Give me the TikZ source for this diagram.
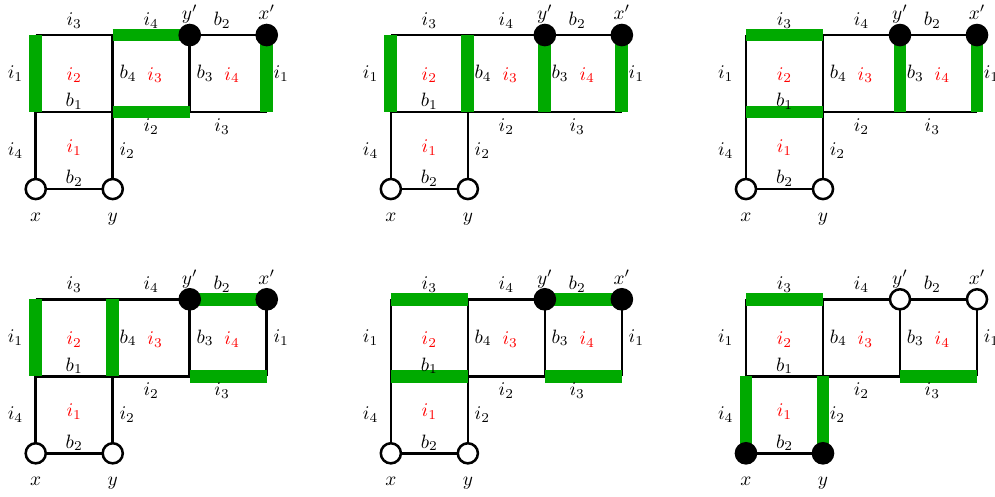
\documentclass[tikz,border=0pt]{standalone}
\usepackage{amsmath}
\usepackage{tikz}

\definecolor{barGreen}{RGB}{0,170,0}

% one panel: #1 shift, #2 name prefix, #3 green edges,
% #4 fill of y' and x', #5 fill of x and y
\newcommand{\cyclepanel}[5]{%
  \begin{scope}[shift={#1}, name prefix=#2-]
    \coordinate (t0) at (0,0);
    \coordinate (t1) at (1,0);
    \coordinate (t2) at (2,0);
    \coordinate (t3) at (3,0);
    \coordinate (m0) at (0,-1);
    \coordinate (m1) at (1,-1);
    \coordinate (m2) at (2,-1);
    \coordinate (m3) at (3,-1);
    \coordinate (l0) at (0,-2);
    \coordinate (l1) at (1,-2);

    \draw[edge] (t0) -- (t3);
    \draw[edge] (m0) -- (m3);
    \draw[edge] (l0) -- (l1);
    \draw[edge] (t0) -- (l0);
    \draw[edge] (t1) -- (l1);
    \draw[edge] (t2) -- (m2);
    \draw[edge] (t3) -- (m3);

    \foreach \a/\b in {#3} {
      \draw[greenbar] (\a) -- (\b);
    }

    \node[vtx, fill=#4] (vyp) at (t2) {};
    \node[vtx, fill=#4] (vxp) at (t3) {};
    \node[vtx, fill=#5] (vx) at (l0) {};
    \node[vtx, fill=#5] (vy) at (l1) {};
    \path (vyp.north) ++(0,2pt) node[anchor=base] (nyp) {$y'$};
    \path (vxp.north) ++(0,2pt) node[anchor=base] (nxp) {$x'$};
    \path (vx.south) node[below=3pt] (nx) {$x$};
    \path (vy.south) node[below=3pt] (ny) {$y$};

    \path (t0) -- node[above] (et01) {$i_3$} (t1);
    \path (t1) -- node[above] (et12) {$i_4$} (t2);
    \path (t2) -- node[above, pos=.42] (et23) {$b_2$} (t3);
    \path (t0) -- node[left=3pt] (es0) {$i_1$} (m0);
    \path (t1) -- node[right] (es1) {$b_4$} (m1);
    \path (t2) -- node[right] (es2) {$b_3$} (m2);
    \path (t3) -- node[right] (es3) {$i_1$} (m3);
    \path (m0) -- node[nearlab] (em01) {$b_1$} (m1);
    \path (m1) -- node[below] (em12) {$i_2$} (m2);
    \path (m2) -- node[below, pos=.42] (em23) {$i_3$} (m3);
    \path (m0) -- node[left=3pt] (ed0) {$i_4$} (l0);
    \path (m1) -- node[right] (ed1) {$i_2$} (l1);
    \path (l0) -- node[nearlab] (el01) {$b_2$} (l1);

    \node[face] (fa) at (0.5,-0.52) {$i_2$};
    \node[face] (fb) at (1.55,-0.52) {$i_3$};
    \node[face] (fc) at (2.55,-0.52) {$i_4$};
    \node[face] (fd) at (0.5,-1.46) {$i_1$};
  \end{scope}
}

\begin{document}
\begin{tikzpicture}[
      x=1.4cm,
      y=1.4cm,
      edge/.style={draw=black, line width=1.3pt},
      greenbar/.style={draw=barGreen, line width=6.6pt},
      vtx/.style={
        circle,
        draw=black,
        line width=1.3pt,
        minimum size=10.4pt,
        inner sep=0pt
      },
      face/.style={text=red},
      nearlab/.style={above, inner sep=1pt}
    ]
    \useasboundingbox (0,0) rectangle (12.922,-6.442);

    \cyclepanel{(0.464,-0.455)}{pA}{t0/m0, t1/t2, m1/m2, t3/m3}{black}{white}
    \cyclepanel{(5.076,-0.455)}{pB}{t0/m0, t1/m1, t2/m2, t3/m3}{black}{white}
    \cyclepanel{(9.688,-0.455)}{pC}{t0/t1, m0/m1, t2/m2, t3/m3}{black}{white}
    \cyclepanel{(0.464,-3.887)}{pD}{t0/m0, t1/m1, t2/t3, m2/m3}{black}{white}
    \cyclepanel{(5.076,-3.887)}{pE}{t0/t1, m0/m1, t2/t3, m2/m3}{black}{white}
    \cyclepanel{(9.688,-3.887)}{pF}{t0/t1, m2/m3, m0/l0, m1/l1}{white}{black}
  \end{tikzpicture}
\end{document}
